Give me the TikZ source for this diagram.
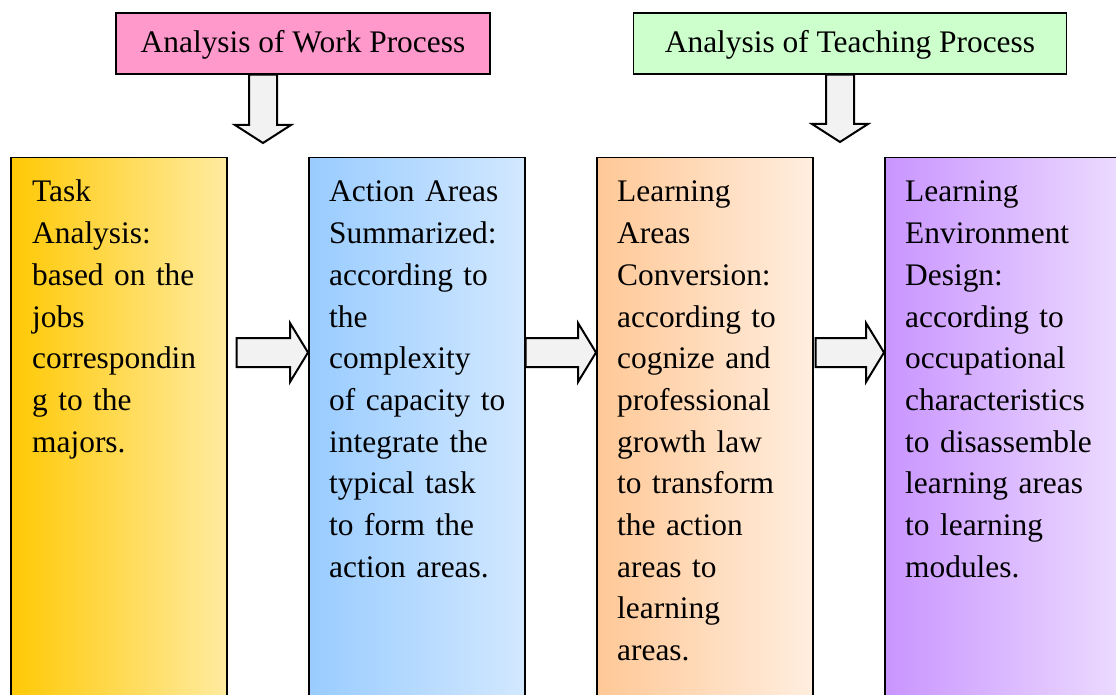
\documentclass[tikz,border=0pt]{standalone}
\usepackage{fontspec}
\setmainfont{Liberation Serif}
\usetikzlibrary{calc}

\definecolor{rosa}{HTML}{FF99CC}
\definecolor{verde}{HTML}{CCFFCC}
\definecolor{amarilloA}{HTML}{FFC905}
\definecolor{amarilloB}{HTML}{FFEBA0}
\definecolor{azulA}{HTML}{99CCFF}
\definecolor{azulB}{HTML}{D2E8FF}
\definecolor{naranjaA}{HTML}{FFC896}
\definecolor{naranjaB}{HTML}{FFEEDF}
\definecolor{moradoA}{HTML}{C995FF}
\definecolor{moradoB}{HTML}{EEDFFF}

\tikzset{
    cabecera/.style={draw=black, line width=1.5pt, minimum width=374pt, minimum height=61pt,
        inner sep=0pt, text height=22pt, text depth=4pt, font=\fontsize{31.4}{41.7}\selectfont},
    columna/.style={draw=black, line width=1.5pt, minimum width=216pt, minimum height=560pt,
        anchor=north west, inner sep=0pt},
    texto/.style={anchor=base west, inner sep=0pt, text width=200pt, align=left,
        font=\fontsize{31.4}{41.7}\selectfont},
    bloque/.style={draw=black, line width=2pt, fill=black!5, line join=miter}
}

% Flecha gruesa horizontal desde #1 hasta la punta #2.
\newcommand{\flechaH}[2]{
    \draw[bloque] ($(#1)+(0,-14.5)$) -- ($(#2)+(-18,-14.5)$) -- ($(#2)+(-18,-29.5)$)
        -- (#2) -- ($(#2)+(-18,29.5)$) -- ($(#2)+(-18,14.5)$) -- ($(#1)+(0,14.5)$) -- cycle;
}
% Flecha gruesa vertical desde #1 hasta la punta #2.
\newcommand{\flechaV}[2]{
    \draw[bloque] ($(#1)+(-14,0)$) -- ($(#2)+(-14,-18)$) -- ($(#2)+(-28,-18)$)
        -- (#2) -- ($(#2)+(28,-18)$) -- ($(#2)+(14,-18)$) -- ($(#1)+(14,0)$) -- cycle;
}

\begin{document}
\begin{tikzpicture}[x=1pt, y=-1pt]
    % Fija el marco de la figura.
    \useasboundingbox (0,0) rectangle (1116,695);

    % Cajas superiores de los dos procesos de análisis.
    \node[cabecera, fill=rosa] (trabajo) at (303,43.5) {Analysis of Work Process};
    \node[cabecera, fill=verde, minimum width=433pt] (ensenanza) at (850,43.5) {Analysis of Teaching Process};

    % Cuatro columnas con relleno degradado.
    \node[columna, left color=amarilloA, right color=amarilloB] (tarea) at (10,157) {};
    \node[columna, left color=azulA, right color=azulB] (accion) at (308,157) {};
    \node[columna, left color=naranjaA, right color=naranjaB] (aprendizaje) at (596,157) {};
    \node[columna, left color=moradoA, right color=moradoB, minimum width=250pt] (entorno) at (884,157) {};

    % Textos de cada columna.
    \node[texto] (tareatxt) at ([xshift=22pt,yshift=-45pt]tarea.north west)
        {Task\\Analysis:\\based on the\\jobs\\correspondin\\g to the\\majors.};
    \node[texto] (acciontxt) at ([xshift=21pt,yshift=-45pt]accion.north west)
        {Action Areas\\Summarized:\\according to\\the\\complexity\\of capacity to\\integrate the\\typical task\\to form the\\action areas.};
    \node[texto] (aprendizajetxt) at ([xshift=21pt,yshift=-45pt]aprendizaje.north west)
        {Learning\\Areas\\Conversion:\\according to\\cognize and\\professional\\growth law\\to transform\\the action\\areas to\\learning\\areas.};
    \node[texto] (entornotxt) at ([xshift=21pt,yshift=-45pt]entorno.north west)
        {Learning\\Environment\\Design:\\according to\\occupational\\characteristics\\to disassemble\\learning areas\\to learning\\modules.};

    % Puntos de inicio y final de las flechas.
    \coordinate (b1a) at ([xshift=-40pt]trabajo.south);
    \coordinate (b1b) at (263,143);
    \coordinate (b2a) at ([xshift=-10pt]ensenanza.south);
    \coordinate (b2b) at (840,142);
    \coordinate (h1a) at ([xshift=9pt,yshift=-195.5pt]tarea.north east);
    \coordinate (h1b) at ([yshift=-195.5pt]accion.north west);
    \coordinate (h2a) at ([yshift=-195.5pt]accion.north east);
    \coordinate (h2b) at ([yshift=-195.5pt]aprendizaje.north west);
    \coordinate (h3a) at ([xshift=2pt,yshift=-195.5pt]aprendizaje.north east);
    \coordinate (h3b) at ([yshift=-195.5pt]entorno.north west);

    % Flechas gruesas.
    \flechaV{b1a}{b1b}
    \flechaV{b2a}{b2b}
    \flechaH{h1a}{h1b}
    \flechaH{h2a}{h2b}
    \flechaH{h3a}{h3b}
\end{tikzpicture}
\end{document}
